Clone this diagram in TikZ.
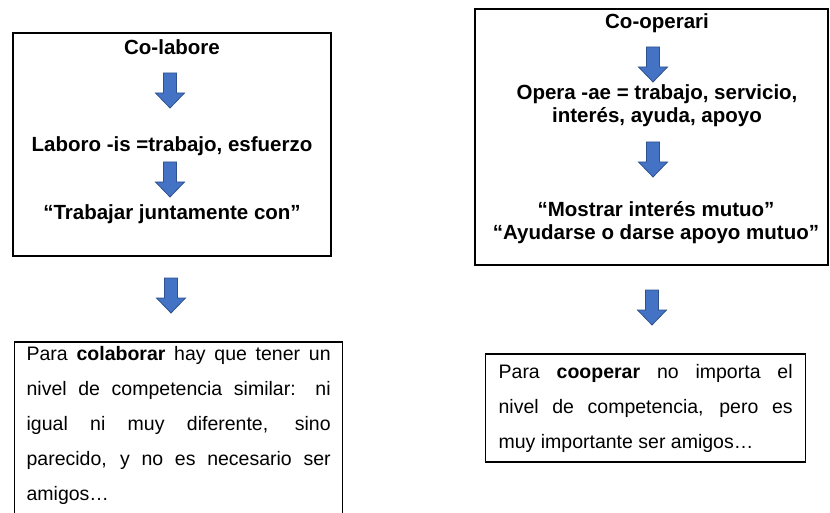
\documentclass[tikz,border=0pt]{standalone}
\usepackage{fontspec}
\setmainfont{Liberation Sans}
\usetikzlibrary{positioning}
\definecolor{azulflecha}{HTML}{4472C4}
\definecolor{bordeflecha}{HTML}{2F528F}

\begin{document}
\begin{tikzpicture}[x=1pt,y=-1pt,
	marco/.style={draw,line width=1.3pt,inner sep=0pt},
	titulo/.style={font=\fontsize{20.5}{23}\selectfont\bfseries,anchor=base,align=center,inner sep=0pt},
	parrafo/.style={draw,line width=1.3pt,anchor=base west,align=justify,font=\fontsize{19.5}{35}\selectfont},
	flecha/.pic={\draw[fill=azulflecha,draw=bordeflecha,line width=0.8pt] (-6.5,0) -- (6.5,0) -- (6.5,20) -- (14.5,20) -- (0,35) -- (-14.5,20) -- (-6.5,20) -- cycle;}]
	\useasboundingbox (0,0) rectangle (830,513);
	% left column
	\node[marco,minimum width=318pt,minimum height=223pt] (colabore) at (172,144.5) {};
	\node[titulo] (colaboreT) at (172,55) {Co-labore};
	\pic at (170,73) {flecha};
	\node[titulo] (laboro) at (172,152) {Laboro -is =trabajo, esfuerzo};
	\pic at (170,162) {flecha};
	\node[titulo] (juntos) at (172,220) {“Trabajar juntamente con”};
	\pic at (171,278) {flecha};
	\node[parrafo,text width=304pt,inner xsep=12pt,inner ysep=4pt,text depth=165pt] (colaborar) at (14,360)
		{Para \textbf{colaborar} hay que tener un\linebreak
		nivel de competencia similar: ni\linebreak
		igual ni muy diferente, sino\linebreak
		parecido, y no es necesario ser\linebreak
		amigos…};
	% right column (base of a two-line title = its last line)
	\node[marco,minimum width=353pt,minimum height=256pt] (cooperari) at (651.5,137) {};
	\node[titulo] (cooperariT) at (657,29) {Co-operari};
	\pic at (653,47) {flecha};
	\node[titulo] (opera) at (657,123) {Opera -ae = trabajo, servicio,\\interés, ayuda, apoyo};
	\pic at (653,142) {flecha};
	\node[titulo] (mutuo) at (656,240) {“Mostrar interés mutuo”\\“Ayudarse o darse apoyo mutuo”};
	\pic at (652,290) {flecha};
	\node[parrafo,text width=294pt,inner xsep=13pt,inner ysep=10pt] (cooperar) at (485,378)
		{Para \textbf{cooperar} no importa el\linebreak
		nivel de competencia, pero es\linebreak
		muy importante ser amigos…};
\end{tikzpicture}
\end{document}
